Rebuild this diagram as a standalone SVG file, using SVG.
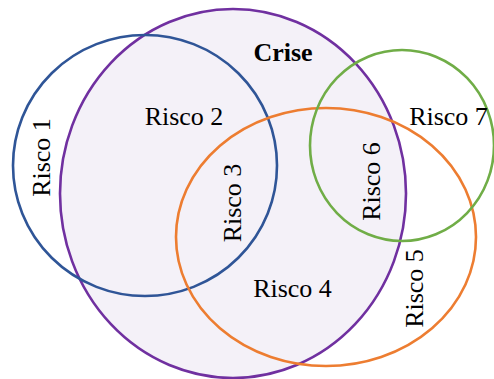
<svg xmlns="http://www.w3.org/2000/svg" width="494" height="379" viewBox="0 0 494 379">
<style>
.c{fill:none;stroke-width:2.6}
.t{font-family:"Liberation Serif","Times New Roman",serif;font-size:26px;fill:#000}
.b{font-weight:bold}
</style>
<rect width="494" height="379" fill="#fff"/>
<g id="crise"><ellipse cx="233" cy="193.5" rx="173" ry="184.5" fill="#F4F1F8" stroke="#7030A0" stroke-width="2.6"/></g>
<g id="risco1"><ellipse class="c" cx="145" cy="165.5" rx="132" ry="130.5" stroke="#2F5597"/></g>
<g id="risco5"><ellipse class="c" cx="326" cy="237" rx="150" ry="129" stroke="#ED7D31"/></g>
<g id="risco7"><ellipse class="c" cx="402" cy="145.5" rx="92" ry="95.5" stroke="#70AD47"/></g>
<g id="labels">
<text class="t b" x="283" y="61" text-anchor="middle">Crise</text>
<text class="t" x="184" y="125" text-anchor="middle">Risco 2</text>
<text class="t" x="448.5" y="125" text-anchor="middle">Risco 7</text>
<text class="t" x="292.5" y="297" text-anchor="middle">Risco 4</text>
<text class="t" text-anchor="middle" transform="translate(50,157.5) rotate(-90)">Risco 1</text>
<text class="t" text-anchor="middle" transform="translate(241,203) rotate(-90)">Risco 3</text>
<text class="t" text-anchor="middle" transform="translate(380,181.5) rotate(-90)">Risco 6</text>
<text class="t" text-anchor="middle" transform="translate(423,288.5) rotate(-90)">Risco 5</text>
</g>
</svg>
